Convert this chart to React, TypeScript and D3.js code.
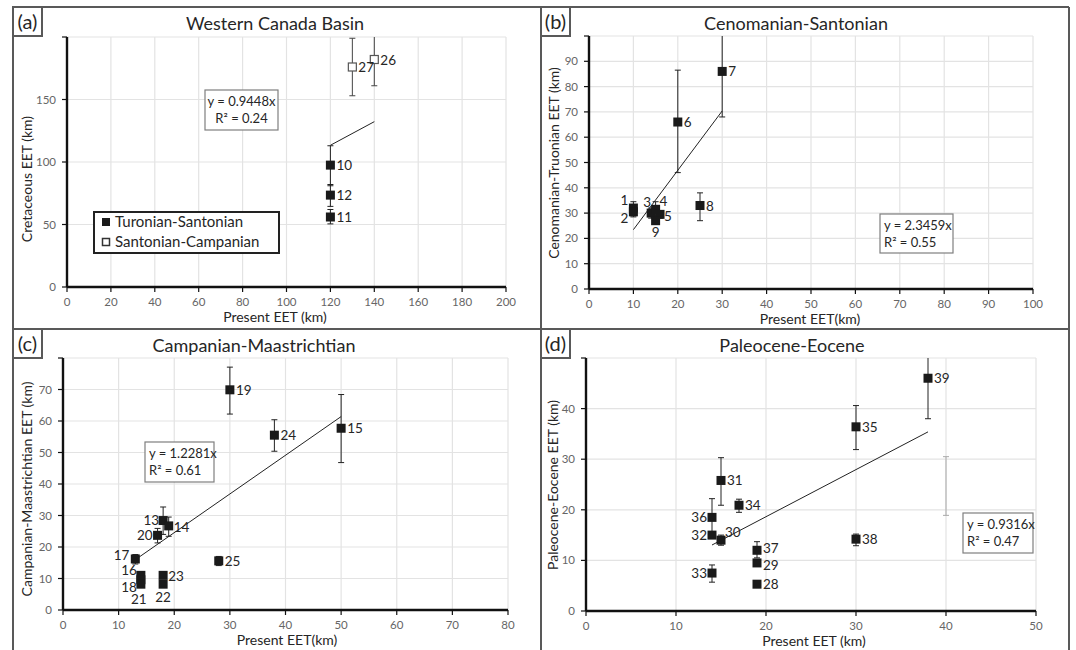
import React from 'react';
import * as d3 from 'd3';

// (a) Western Canada Basin
const aTurIds = [10, 12, 11];
const aTurX = [120, 120, 120];
const aTurY = [97.5, 73.5, 56];
const aTurLo = [81, 64.5, 50.5];
const aTurHi = [113, 82, 62];
const aSanIds = [27, 26];
const aSanX = [130, 140];
const aSanY = [176, 182];
const aSanLo = [153, 161];
const aSanHi = [199, 206];

// (b) Cenomanian-Santonian
const bIds = [1, 2, 3, 4, 5, 9, 6, 7, 8];
const bX = [10, 10, 14, 15, 16, 15, 20, 30, 25];
const bY = [32, 30.5, 30, 31.5, 29.5, 27, 66, 86, 33];
const bLo = [29, 28.5, 28, 29, 28, 25.5, 46, 68, 27];
const bHi = [34.5, 33, 32, 34.5, 31, 29, 86.5, 106, 38];

// (c) Campanian-Maastrichtian
const cIds = [13, 14, 15, 16, 17, 18, 19, 20, 21, 22, 23, 24, 25];
const cX = [18, 19, 50, 14, 13, 14, 30, 17, 14, 18, 18, 38, 28];
const cY = [28.4, 26.7, 57.7, 11, 16.2, 9.6, 69.9, 23.7, 8.2, 8.2, 11, 55.5, 15.6];
const cLo = [24, 23.4, 46.8, 10, 14.6, 9, 62.2, 21.3, 7.5, 7.5, 10.3, 50.4, 14.1];
const cHi = [32.7, 29.5, 68.4, 12, 17.6, 10.3, 77.1, 25.9, 9, 9, 11.7, 60.4, 17];

// (d) Paleocene-Eocene
const dIds = [28, 29, 30, 31, 32, 33, 34, 35, 36, 37, 38, 39];
const dX = [19, 19, 15, 15, 14, 14, 17, 30, 14, 19, 30, 38];
const dY = [5.3, 9.5, 14, 25.8, 15, 7.5, 20.9, 36.4, 18.5, 12, 14.2, 46];
const dLo = [4.8, 9, 13, 20.9, 14.5, 5.7, 19.5, 31.9, 15, 10.5, 12.9, 38];
const dHi = [6, 10, 15, 30.3, 15.5, 9.1, 22.1, 40.6, 22.2, 13.7, 15.2, 54];
const dGhostX = [40];
const dGhostLo = [18.9];
const dGhostHi = [30.5];

// trend lines y = kx
const trendSlope = [0.9448, 2.3459, 1.2281, 0.9316];
const trendR2 = ['0.24', '0.55', '0.61', '0.47'];
const trendFrom = [120, 10, 13, 14];
const trendTo = [140, 30, 50, 38];

const titles = ['Western Canada Basin', 'Cenomanian-Santonian', 'Campanian-Maastrichtian', 'Paleocene-Eocene'];
const yTitles = ['Cretaceous EET (km)', 'Cenomanian-Truonian EET (km)', 'Campanian-Maastrichtian EET (km)', 'Paleocene-Eocene EET (km)'];
const xTitles = ['Present EET (km)', 'Present EET(km)', 'Present EET(km)', 'Present EET (km)'];
const letters = ['(a)', '(b)', '(c)', '(d)'];
const xMax = [200, 100, 80, 50];
const yMax = [200, 100, 80, 50];
const xStep = [20, 10, 10, 10];
const yStep = [50, 10, 10, 10];

const legendNames = ['Turonian-Santonian', 'Santonian-Campanian'];

type Pt = { id: number; x: number; y: number; lo: number; hi: number; open?: boolean };
const zip = (ids: number[], xs: number[], ys: number[], lo: number[], hi: number[], open = false): Pt[] =>
  ids.map((id, i) => ({ id, x: xs[i], y: ys[i], lo: lo[i], hi: hi[i], open }));

const points: Pt[][] = [
  [...zip(aTurIds, aTurX, aTurY, aTurLo, aTurHi), ...zip(aSanIds, aSanX, aSanY, aSanLo, aSanHi, true)],
  zip(bIds, bX, bY, bLo, bHi),
  zip(cIds, cX, cY, cLo, cHi),
  zip(dIds, dX, dY, dLo, dHi),
];

// layout of each panel
const layout = [
  { x0: 67, x1: 506, yT: 37, yB: 287, tx: 275, ty: 30, ylx: 27, yly: 179, xlx: 275, box: [205, 90, 73, 40], boxCenter: true },
  { x0: 589, x1: 1033, yT: 36, yB: 289, tx: 796, ty: 30, ylx: 554, yly: 163, xlx: 810, box: [880, 214, 73, 39], boxCenter: false },
  { x0: 63, x1: 508, yT: 358, yB: 610, tx: 254, ty: 352, ylx: 27, yly: 489, xlx: 287, box: [145, 442, 69, 40], boxCenter: false },
  { x0: 586, x1: 1036, yT: 358, yB: 611, tx: 792, ty: 352, ylx: 553, yly: 485, xlx: 814, box: [963, 513, 70, 40], boxCenter: false },
];
const letterBox = [[13, 7], [541, 7], [13, 329], [541, 329]];

// label placement: [dx, dy, anchor]
const labelPos: Record<number, [number, number, string]> = {
  1: [-5, -3, 'end'], 2: [-5, 11, 'end'], 3: [-4, -6, 'middle'], 4: [4, -3, 'start'], 5: [4, 7, 'start'], 9: [0, 16, 'middle'],
  13: [-4, 4, 'end'], 14: [5, 6, 'start'], 20: [-5, 5, 'end'], 17: [-6, 1, 'end'], 16: [-4, 0, 'end'], 18: [-4, 12, 'end'],
  21: [-2, 20, 'middle'], 22: [0, 18, 'middle'], 23: [5, 6, 'start'],
  36: [-5, 5, 'end'], 32: [-5, 5, 'end'], 33: [-5, 5, 'end'], 30: [4, -3, 'start'],
  37: [6, 3, 'start'], 29: [6, 7, 'start'],
};

const FONT = 'Lato, "Open Sans", sans-serif';
const TXT = '#262626';
const BORDER = '#595959';

const Panel = ({ i }: { i: number }) => {
  const L = layout[i];
  const x = d3.scaleLinear().domain([0, xMax[i]]).range([L.x0, L.x1]);
  const y = d3.scaleLinear().domain([0, yMax[i]]).range([L.yB, L.yT]);
  const xt = d3.range(0, xMax[i] + 0.001, xStep[i]);
  const yt = d3.range(0, yMax[i] + 0.001, yStep[i]);
  const clipId = `clip${i}`;
  const [bx, by, bw, bh] = L.box;
  const k = trendSlope[i];
  const line = d3.line<number>().x((v) => x(v)).y((v) => y(k * v));
  return (
    <g>
      <defs>
        <clipPath id={clipId}>
          <rect x={L.x0 - 10} y={L.yT} width={L.x1 - L.x0 + 20} height={L.yB - L.yT} />
        </clipPath>
      </defs>
      {xt.slice(1).map((t) => (
        <line key={'gx' + t} x1={x(t)} x2={x(t)} y1={L.yT} y2={L.yB} stroke="#e3e3e3" strokeWidth={1.2} />
      ))}
      {yt.slice(1).map((t) => (
        <line key={'gy' + t} x1={L.x0} x2={L.x1} y1={y(t)} y2={y(t)} stroke="#e3e3e3" strokeWidth={1.2} />
      ))}
      {/* axes */}
      <line x1={L.x0} x2={L.x0} y1={L.yT} y2={L.yB} stroke="#111" strokeWidth={2.4} />
      <line x1={L.x0} x2={L.x1} y1={L.yB} y2={L.yB} stroke="#111" strokeWidth={2.4} />
      {xt.map((t) => (
        <g key={'tx' + t}>
          <line x1={x(t)} x2={x(t)} y1={L.yB} y2={L.yB + 5} stroke="#111" strokeWidth={1.2} />
          <text x={x(t)} y={L.yB + 19} textAnchor="middle" fontSize={11.5} fill="#666">{t}</text>
        </g>
      ))}
      {yt.map((t) => (
        <g key={'ty' + t}>
          <line x1={L.x0 - 5} x2={L.x0} y1={y(t)} y2={y(t)} stroke="#111" strokeWidth={1.2} />
          {t < yMax[i] && (
            <text x={L.x0 - 11} y={y(t) + 4} textAnchor="end" fontSize={11.5} fill="#666">{t}</text>
          )}
        </g>
      ))}
      {/* error bars */}
      <g clipPath={`url(#${clipId})`}>
        {points[i].map((p) => (
          <g key={'e' + p.id} stroke={p.open ? '#444' : '#222'} strokeWidth={1}>
            <line x1={x(p.x)} x2={x(p.x)} y1={y(p.lo)} y2={y(p.hi)} />
            <line x1={x(p.x) - 3} x2={x(p.x) + 3} y1={y(p.lo)} y2={y(p.lo)} />
            <line x1={x(p.x) - 3} x2={x(p.x) + 3} y1={y(p.hi)} y2={y(p.hi)} />
          </g>
        ))}
        {i === 3 &&
          dGhostX.map((gx, j) => (
            <g key={'g' + j} stroke="#aaa" strokeWidth={1}>
              <line x1={x(gx)} x2={x(gx)} y1={y(dGhostLo[j])} y2={y(dGhostHi[j])} />
              <line x1={x(gx) - 3} x2={x(gx) + 3} y1={y(dGhostLo[j])} y2={y(dGhostLo[j])} />
              <line x1={x(gx) - 3} x2={x(gx) + 3} y1={y(dGhostHi[j])} y2={y(dGhostHi[j])} />
            </g>
          ))}
        <path d={line([trendFrom[i], trendTo[i]]) || ''} stroke="#222" strokeWidth={1} fill="none" />
      </g>
      {/* markers */}
      {points[i].map((p) =>
        p.open ? (
          <rect key={'m' + p.id} x={x(p.x) - 4} y={y(p.y) - 4} width={8} height={8} fill="#fff" stroke="#555" strokeWidth={1.2} />
        ) : (
          <rect key={'m' + p.id} x={x(p.x) - 4.5} y={y(p.y) - 4.5} width={9} height={9} fill="#1a1a1a" />
        )
      )}
      {points[i].map((p) => {
        const lp = labelPos[p.id] || [6, 5, 'start'];
        return (
          <text key={'l' + p.id} x={x(p.x) + lp[0]} y={y(p.y) + lp[1]} textAnchor={lp[2]} fontSize={13.5} fill={TXT}>
            {p.id}
          </text>
        );
      })}
      {/* equation box */}
      <rect x={bx} y={by} width={bw} height={bh} fill="#fff" stroke="#7f7f7f" strokeWidth={1.2} />
      <text x={L.boxCenter ? bx + bw / 2 : bx + 4} y={by + 16} textAnchor={L.boxCenter ? 'middle' : 'start'} fontSize={13} fill={TXT}>
        {`y = ${k}x`}
      </text>
      <text x={L.boxCenter ? bx + bw / 2 : bx + 4} y={by + 33} textAnchor={L.boxCenter ? 'middle' : 'start'} fontSize={13} fill={TXT}>
        {`R² = ${trendR2[i]}`}
      </text>
      {/* titles */}
      <text x={L.tx} y={L.ty} textAnchor="middle" fontSize={18} fill={TXT}>{titles[i]}</text>
      <text x={L.xlx} y={L.yB + 35} textAnchor="middle" fontSize={14} fill={TXT}>{xTitles[i]}</text>
      <text transform={`translate(${L.ylx + 5},${L.yly}) rotate(-90)`} textAnchor="middle" fontSize={14} fill={TXT}>{yTitles[i]}</text>
      {/* letter */}
      <rect x={letterBox[i][0]} y={letterBox[i][1]} width={29} height={29} fill="#fff" stroke={BORDER} strokeWidth={2} />
      <text x={letterBox[i][0] + 14.5} y={letterBox[i][1] + 22} textAnchor="middle" fontSize={20} fill={TXT}>{letters[i]}</text>
    </g>
  );
};

const Legend = () => (
  <g>
    <rect x={94} y={212} width={185} height={41} fill="#fff" stroke="#222" strokeWidth={2} />
    <rect x={102} y={218} width={8} height={8} fill="#1a1a1a" />
    <text x={115} y={227} fontSize={15} fill={TXT}>{legendNames[0]}</text>
    <rect x={102.5} y={238.5} width={7} height={7} fill="#fff" stroke="#333" strokeWidth={1.5} />
    <text x={115} y={247} fontSize={15} fill={TXT}>{legendNames[1]}</text>
  </g>
);

export default function App() {
  return (
    <svg width={1076} height={650} style={{ position: 'absolute', left: 0, top: 0, background: '#fff' }} fontFamily={FONT}>
      <rect width={1076} height={650} fill="#fff" />
      {[0, 1, 2, 3].map((i) => (
        <Panel key={i} i={i} />
      ))}
      <Legend />
      {/* panel frames */}
      <g stroke={BORDER} strokeWidth={2} fill="none">
        <line x1={13} x2={1069} y1={7} y2={7} />
        <line x1={13} x2={13} y1={7} y2={650} />
        <line x1={1069} x2={1069} y1={7} y2={650} />
        <line x1={541} x2={541} y1={7} y2={650} />
        <line x1={13} x2={1069} y1={329} y2={329} />
      </g>
    </svg>
  );
}
